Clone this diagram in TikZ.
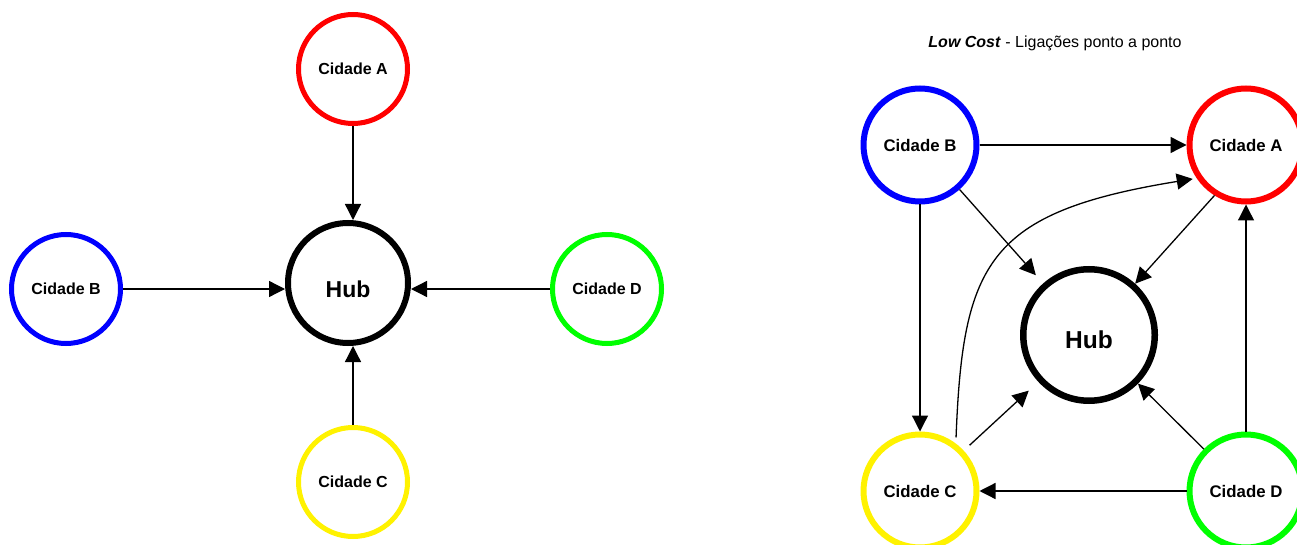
\documentclass[tikz,border=0pt]{standalone}
\usepackage{fontspec}
\setmainfont{Liberation Sans}
\usetikzlibrary{arrows.meta}
\tikzset{%
  city/.style={circle, line width=5pt, minimum size=109pt, inner sep=0pt,
    font=\fontsize{16}{19}\selectfont\bfseries},
  big city/.style={city, line width=6pt, minimum size=113pt,
    font=\fontsize{16.8}{20}\selectfont\bfseries},
  hub/.style={circle, draw=black, line width=6pt, minimum size=120pt, inner sep=0pt,
    text depth=0pt, font=\fontsize{23}{27}\selectfont\bfseries},
  link/.style={line width=1.3pt, -{Triangle[length=16pt,width=16pt]}}
}
\begin{document}
\begin{tikzpicture}[x=1pt,y=-1pt]
          \useasboundingbox (0,0) rectangle (1297,545);

          % star
          \node[hub, text height=28.5pt] (hub) at (348,283) {Hub};
          \node[city, draw=red] (A) at (353,69) {Cidade A};
          \node[city, draw=blue] (B) at (66,289) {Cidade B};
          \node[city, draw=yellow] (C) at (353,482) {Cidade C};
          \node[city, draw=green] (D) at (607,289) {Cidade D};

          \draw[link] (A.south) -- (A.south |- hub.north);
          \draw[link] (C.north) -- (C.north |- hub.south);
          \draw[link] (B.east) -- (B.east -| hub.west);
          \draw[link] (D.west) -- (D.west -| hub.east);

          % point to point
          \node[font=\fontsize{16}{19}\selectfont] (title) at (1055,43)
            {\textbf{\textit{Low Cost}} - Ligações ponto a ponto};
          \node[hub, line width=6.5pt, minimum size=131.5pt, text height=27.5pt,
            font=\fontsize{24.5}{29}\selectfont\bfseries] (rhub) at (1089,335) {Hub};
          \node[big city, draw=red] (rA) at (1246,145) {Cidade A};
          \node[big city, draw=blue] (rB) at (920,145) {Cidade B};
          \node[big city, draw=yellow] (rC) at (920,491) {Cidade C};
          \node[big city, draw=green] (rD) at (1246,491) {Cidade D};

          \draw[link] (rB) -- (rA);
          \draw[link] (rB) -- (rC);
          \draw[link] (rD) -- (rA);
          \draw[link] (rD) -- (rC);
          \draw[link, shorten >=11pt] (rB) -- (rhub);
          \draw[link] (rA.-122) -- (rhub);
          \draw[link] (rD) -- (rhub);
          \draw[link, shorten <=8pt, shorten >=13pt] (rC) -- (rhub);
          \draw[link, shorten <=6pt, shorten >=4pt] (rC.53)
            .. controls +(7,-181) and +(-209,34) .. (rA.-146);
        \end{tikzpicture}
\end{document}
